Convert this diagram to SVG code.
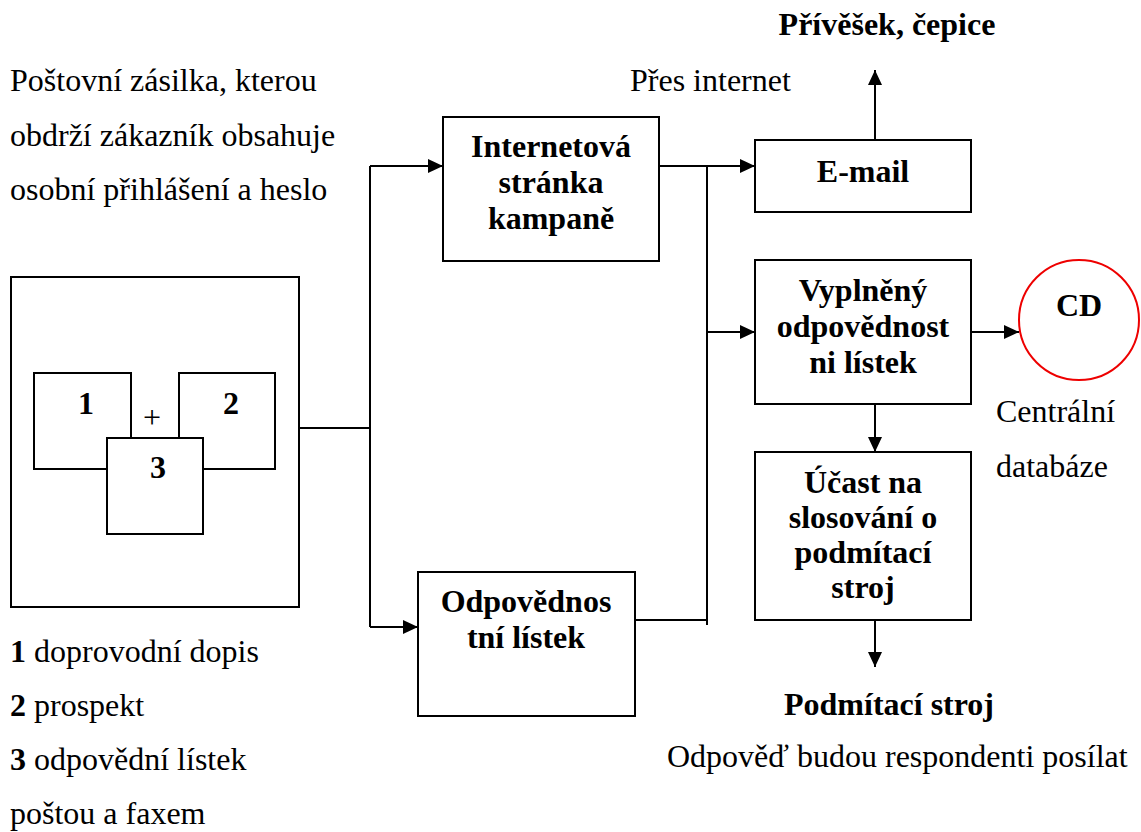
<svg xmlns="http://www.w3.org/2000/svg" width="1141" height="832" viewBox="0 0 1141 832">
<style>
.box{fill:#fff;stroke:#000;stroke-width:2}
.ln{fill:none;stroke:#000;stroke-width:2}
.t{font-family:"Liberation Serif","Times New Roman",serif;font-size:32px;fill:#000}
.b{font-weight:bold}
.c{text-anchor:middle}
</style>
<defs>
<marker id="ah" markerUnits="userSpaceOnUse" markerWidth="15" markerHeight="14" refX="15" refY="7" orient="auto">
<path d="M0,0 L15,7 L0,14 z" fill="#000"/>
</marker>
</defs>
<rect width="1141" height="832" fill="#fff"/>
<g id="texts">
<text class="t" x="10" y="91">Poštovní zásilka, kterou</text>
<text class="t" x="10" y="146">obdrží zákazník obsahuje</text>
<text class="t" x="10" y="200">osobní přihlášení a heslo</text>
<text class="t" x="630" y="91">Přes internet</text>
<text class="t b c" x="887" y="35">Přívěšek, čepice</text>
<text class="t" x="10" y="662"><tspan font-weight="bold">1</tspan> doprovodní dopis</text>
<text class="t" x="10" y="716"><tspan font-weight="bold">2</tspan> prospekt</text>
<text class="t" x="10" y="770"><tspan font-weight="bold">3</tspan> odpovědní lístek</text>
<text class="t" x="10" y="824">poštou a faxem</text>
<text class="t b c" x="889" y="715">Podmítací stroj</text>
<text class="t" x="667" y="767">Odpověď budou respondenti posílat</text>
<text class="t" x="996" y="422">Centrální</text>
<text class="t" x="996" y="477">databáze</text>
</g>
<g id="connectors">
<path class="ln" d="M299,428 H370"/>
<path class="ln" d="M370,166 V627"/>
<path class="ln" d="M370,166 H443" marker-end="url(#ah)"/>
<path class="ln" d="M370,627 H418" marker-end="url(#ah)"/>
<path class="ln" d="M659,166 H755" marker-end="url(#ah)"/>
<path class="ln" d="M707,166 V625"/>
<path class="ln" d="M635,620 H707"/>
<path class="ln" d="M707,332 H755" marker-end="url(#ah)"/>
<path class="ln" d="M971,332 H1019" marker-end="url(#ah)"/>
<path class="ln" d="M875,404 V452" marker-end="url(#ah)"/>
<path class="ln" d="M875,140 V70" marker-end="url(#ah)"/>
<path class="ln" d="M875,620 V667" marker-end="url(#ah)"/>
</g>
<g id="mailing">
<rect class="box" x="11" y="277" width="288" height="330"/>
<rect class="box" x="34" y="373" width="97" height="96"/>
<rect class="box" x="179" y="373" width="96" height="96"/>
<rect class="box" x="107" y="438" width="96" height="96"/>
<text class="t b c" x="86" y="414">1</text>
<text class="t b c" x="231" y="414">2</text>
<text class="t b c" x="158" y="478">3</text>
<text class="t c" x="152" y="428">+</text>
</g>
<g id="internet">
<rect class="box" x="443" y="117" width="216" height="144"/>
<text class="t b c" x="551" y="157">Internetová</text>
<text class="t b c" x="551" y="193">stránka</text>
<text class="t b c" x="551" y="229">kampaně</text>
</g>
<g id="odpovednostni">
<rect class="box" x="418" y="572" width="217" height="144"/>
<text class="t b c" x="526" y="612">Odpovědnos</text>
<text class="t b c" x="526" y="648">tní lístek</text>
</g>
<g id="email">
<rect class="box" x="755" y="140" width="216" height="72"/>
<text class="t b c" x="863" y="182">E-mail</text>
</g>
<g id="vyplneny">
<rect class="box" x="755" y="260" width="216" height="144"/>
<text class="t b c" x="863" y="301">Vyplněný</text>
<text class="t b c" x="863" y="337">odpovědnost</text>
<text class="t b c" x="863" y="373">ni lístek</text>
</g>
<g id="ucast">
<rect class="box" x="755" y="452" width="216" height="168"/>
<text class="t b c" x="863" y="493">Účast na</text>
<text class="t b c" x="863" y="528">slosování o</text>
<text class="t b c" x="863" y="563">podmítací</text>
<text class="t b c" x="863" y="598">stroj</text>
</g>
<g id="cd">
<circle cx="1079" cy="320" r="60" fill="#fff" stroke="#e00" stroke-width="2"/>
<text class="t b c" x="1079" y="316">CD</text>
</g>
</svg>
